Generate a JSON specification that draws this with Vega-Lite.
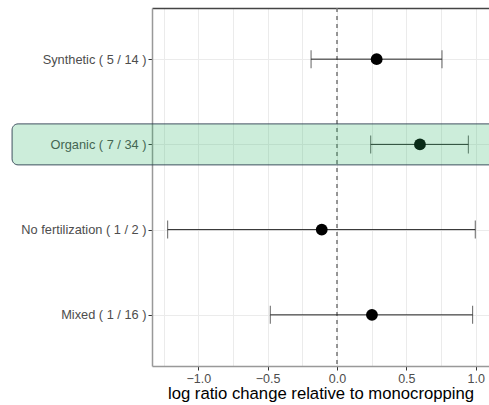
{
  "$schema": "https://vega.github.io/schema/vega-lite/v6.json",
  "width": 337,
  "height": 358,
  "autosize": {"type": "none"},
  "padding": {"left": 152, "top": 8, "right": 0, "bottom": 39},
  "background": "white",
  "config": {
    "view": {"stroke": null},
    "font": "Liberation Sans",
    "axis": {"gridColor": "#ebebeb", "gridWidth": 1}
  },
  "data": {
    "values": [
      {"group": "Synthetic ( 5 / 14 )", "est": 0.286, "lo": -0.187, "hi": 0.757},
      {"group": "Organic ( 7 / 34 )", "est": 0.598, "lo": 0.243, "hi": 0.947},
      {"group": "No fertilization ( 1 / 2 )", "est": -0.110, "lo": -1.221, "hi": 0.997},
      {"group": "Mixed ( 1 / 16 )", "est": 0.252, "lo": -0.481, "hi": 0.978}
    ]
  },
  "resolve": {"axis": {"x": "independent"}},
  "layer": [
    {
      "mark": {"type": "rule", "color": "#777777", "strokeDash": [4, 4], "strokeWidth": 0.6},
      "encoding": {
        "x": {
          "datum": 0,
          "type": "quantitative",
          "scale": {"domain": [-1.334, 1.096], "nice": false, "zero": false},
          "axis": {
            "orient": "bottom",
            "values": [-1.25, -1, -0.75, -0.5, -0.25, 0, 0.25, 0.5, 0.75, 1],
            "labelExpr": "abs(datum.value*2 - round(datum.value*2)) < 0.001 ? format(datum.value, '.1f') : ''",
            "tickOpacity": {"condition": {"test": "abs(datum.value*2 - round(datum.value*2)) < 0.001", "value": 1}, "value": 0},
            "tickColor": "#333333",
            "tickSize": 4,
            "labelColor": "#4d4d4d",
            "labelFontSize": 12.5,
            "labelPadding": 2,
            "domainColor": "#999999",
            "domainWidth": 1.5,
            "grid": true,
            "title": "log ratio change relative to monocropping",
            "titleFontSize": 16.7,
            "titleFontWeight": "normal",
            "titleColor": "#000000",
            "titlePadding": 1
          }
        }
      }
    },
    {
      "mark": {"type": "rule", "color": "#222222", "strokeWidth": 1},
      "encoding": {
        "x": {"field": "lo", "type": "quantitative", "axis": {"orient": "top", "labels": false, "ticks": false, "grid": false, "title": null, "domainColor": "#444444", "domainWidth": 1.5}},
        "x2": {"field": "hi"},
        "y": {
          "field": "group",
          "type": "nominal",
          "sort": ["Synthetic ( 5 / 14 )", "Organic ( 7 / 34 )", "No fertilization ( 1 / 2 )", "Mixed ( 1 / 16 )"],
          "scale": {"type": "point", "padding": 0.6},
          "axis": {
            "title": null,
            "grid": true,
            "labelColor": "#4d4d4d",
            "labelFontSize": 12.8,
            "labelPadding": 2,
            "tickSize": 4,
            "tickColor": "#333333",
            "domainColor": "#999999",
            "domainWidth": 1.5
          }
        }
      }
    },
    {
      "mark": {"type": "tick", "color": "#222222", "thickness": 1, "size": 18},
      "encoding": {
        "x": {"field": "lo", "type": "quantitative", "axis": null},
        "y": {"field": "group", "type": "nominal", "sort": ["Synthetic ( 5 / 14 )", "Organic ( 7 / 34 )", "No fertilization ( 1 / 2 )", "Mixed ( 1 / 16 )"]}
      }
    },
    {
      "mark": {"type": "tick", "color": "#222222", "thickness": 1, "size": 18},
      "encoding": {
        "x": {"field": "hi", "type": "quantitative", "axis": null},
        "y": {"field": "group", "type": "nominal", "sort": ["Synthetic ( 5 / 14 )", "Organic ( 7 / 34 )", "No fertilization ( 1 / 2 )", "Mixed ( 1 / 16 )"]}
      }
    },
    {
      "mark": {"type": "point", "filled": true, "color": "#000000", "opacity": 1, "size": 140},
      "encoding": {
        "x": {"field": "est", "type": "quantitative", "axis": null},
        "y": {"field": "group", "type": "nominal", "sort": ["Synthetic ( 5 / 14 )", "Organic ( 7 / 34 )", "No fertilization ( 1 / 2 )", "Mixed ( 1 / 16 )"]}
      }
    },
    {
      "data": {"values": [{"group": "Organic ( 7 / 34 )", "from": -2.343, "to": 1.4}]},
      "mark": {"type": "bar", "clip": false, "size": 41, "cornerRadius": 6, "fill": "#28b463", "fillOpacity": 0.24, "stroke": "#2c3e50", "strokeWidth": 1, "strokeOpacity": 0.9},
      "encoding": {
        "x": {"field": "from", "type": "quantitative", "axis": null},
        "x2": {"field": "to"},
        "y": {"field": "group", "type": "nominal", "sort": ["Synthetic ( 5 / 14 )", "Organic ( 7 / 34 )", "No fertilization ( 1 / 2 )", "Mixed ( 1 / 16 )"]}
      }
    }
  ]
}
